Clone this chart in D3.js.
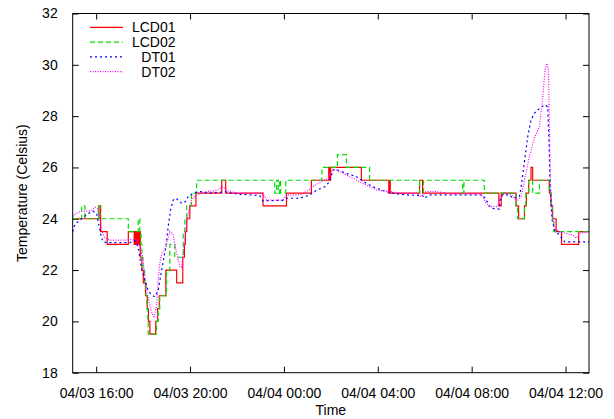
<!DOCTYPE html>
<html>
<head>
<meta charset="utf-8">
<script src="https://cdn.jsdelivr.net/npm/d3@7"></script>
<style>
    body { margin: 0; background: #fff; }
    text { font-family: "Liberation Sans", Arial, sans-serif; font-size: 14px; fill: #000; }
</style>
</head>
<body>
<div class="chart"></div>
<script>
// hours after 04/03 15:00, temperature
const lcd01 = [[0,24],[1.12,24.5],[1.19,23.5],[1.47,23],[2.37,23.5],[2.62,23],[2.66,23.5],[2.71,23],[2.75,23.5],[2.80,23],[2.83,23.5],
    [2.88,22.5],[2.95,22],[3.01,21.5],[3.10,21],[3.18,20.5],[3.23,20],[3.29,19.5],[3.54,20],[3.62,20.5],[3.69,21],[3.97,22],
    [4.43,21.5],[4.69,22.5],[4.76,23],[4.80,23.5],[4.86,24],[4.99,24.5],[5.25,25],[6.35,25.5],[6.52,25],[8.11,24.5],[9.11,25],
    [10.17,25.5],[10.91,26],[10.95,25.5],[10.99,26],[12.30,25.5],[13.47,25],[13.50,25.5],[13.53,25],[14.78,25.5],[14.91,25],
    [18.16,24.5],[18.26,25],[18.89,24.5],[19.00,24],[19.25,24.5],[19.33,25],[19.43,25.5],[19.53,26],[19.60,25.5],[20.31,25],
    [20.38,24.5],[20.45,24],[20.60,23.5],[20.83,23],[21.56,23.5],[22,23.5]];

const lcd02 = [[0,24],[0.38,24.5],[0.52,24],[1.09,24.5],[1.16,24],[2.37,23.5],[2.79,24],[2.86,23.5],[2.91,23],[2.95,22.5],
    [2.99,22],[3.06,21.5],[3.12,21],[3.16,20.5],[3.20,20],[3.22,19.5],[3.57,20],[3.64,20.5],[3.71,21],[4.00,22],[4.14,23],
    [4.35,22.5],[4.71,23.5],[4.78,24],[4.86,24.5],[5.06,25],[5.28,25.5],[8.61,25],[8.69,25.5],[8.76,25],[8.82,25.5],[8.86,25],
    [9.08,25.5],[10.62,26],[11.28,26.5],[11.66,26],[12.65,25.5],[14.78,25],[14.95,25.5],[16.62,25],[16.67,25.5],[17.54,25],
    [18.89,24.5],[18.96,24],[19.25,24.5],[19.31,25],[19.43,25.5],[19.60,25],[19.89,25.5],[20.31,25],[20.38,24.5],[20.44,24],
    [20.50,23.5],[22,23.5]];

const dt01 = [[0,23.5],[0.10,23.8],[0.38,24.0],[0.65,24.2],[0.86,24.3],[1.02,24.2],[1.13,23.7],[1.23,23.25],[1.30,23.1],
    [1.45,23.07],[2.44,23.07],[2.65,23.15],[2.79,22.9],[2.86,22.5],[2.94,22.0],[3.08,21.6],[3.22,21.2],[3.36,21.03],[3.50,20.96],
    [3.64,21.2],[3.79,22.0],[3.89,22.5],[3.97,22.9],[4.07,23.7],[4.17,24.34],[4.28,24.73],[4.40,24.8],[4.49,24.73],[4.64,24.6],
    [4.78,24.65],[4.92,24.86],[5.13,25.0],[5.42,25.06],[5.85,25.0],[6.49,25.05],[7.12,24.95],[7.55,24.93],[7.97,24.9],[8.10,24.7],
    [8.95,24.72],[9.11,24.8],[9.67,24.8],[10.10,24.93],[10.38,25.1],[10.74,25.25],[10.95,25.45],[11.09,25.9],[11.20,25.93],
    [11.66,25.77],[12.09,25.64],[12.51,25.38],[12.94,25.19],[13.36,25.06],[13.79,24.97],[14.21,24.93],[14.92,24.9],[14.99,24.8],
    [15.20,24.93],[17.47,24.93],[17.62,24.73],[17.76,24.5],[17.89,24.4],[18.18,24.38],[18.21,24.73],[18.32,24.93],[18.61,24.93],
    [18.75,24.8],[19.03,24.85],[19.10,25.19],[19.24,26.16],[19.39,27.2],[19.53,27.85],[19.67,28.11],[19.89,28.3],[20.10,28.44],
    [20.24,28.37],[20.31,26.55],[20.35,25.0],[20.43,23.95],[20.53,23.56],[20.74,23.37],[20.96,23.1],[22,23.1]];

const dt02 = [[0,24.1],[0.14,24.2],[0.38,24.3],[0.65,24.3],[0.86,24.35],[0.95,24.45],[1.09,24.4],[1.23,23.56],[1.37,23.25],
    [1.59,23.17],[2.30,23.17],[2.37,23.2],[2.72,23.17],[2.86,22.9],[2.98,22.5],[3.08,21.74],[3.17,21.1],[3.29,20.64],[3.40,20.25],
    [3.47,20.18],[3.57,20.57],[3.64,21.6],[3.71,22.26],[3.79,22.65],[3.93,22.78],[4.14,23.5],[4.28,23.37],[4.43,22.65],[4.57,22.13],
    [4.64,22.1],[4.74,22.9],[4.82,23.56],[4.92,24.2],[5.06,24.73],[5.28,24.93],[5.70,25.06],[6.13,25.1],[6.41,25.25],[6.55,25.1],
    [6.98,25.0],[7.83,25.0],[8.10,25.0],[8.26,24.73],[8.96,24.73],[9.11,24.93],[9.67,24.93],[9.96,25.06],[10.24,25.25],[10.60,25.45],
    [10.88,25.58],[11.02,25.84],[11.16,25.93],[11.38,25.84],[11.80,25.64],[12.37,25.38],[12.94,25.12],[13.50,25.06],[13.93,25.0],
    [14.64,25.0],[14.85,24.86],[15.06,25.06],[15.49,25.06],[16.06,24.97],[17.33,24.97],[17.47,24.86],[17.62,24.6],[17.76,24.47],
    [18.10,24.47],[18.21,24.8],[18.40,25.0],[18.68,24.95],[18.83,24.8],[18.97,24.73],[19.11,24.86],[19.25,25.51],[19.46,26.42],
    [19.67,27.14],[19.89,27.59],[20.03,28.76],[20.13,29.8],[20.20,30.06],[20.27,29.8],[20.31,27.85],[20.35,25.51],[20.43,24.21],
    [20.53,23.63],[20.74,23.5],[21.02,23.43],[21.31,23.37],[21.45,23.24],[21.60,23.43],[21.96,23.5]];

const seriesNames = ["LCD01", "LCD02", "DT01", "DT02"];
const yTicks = [18, 20, 22, 24, 26, 28, 30, 32];
const xTickHours = [1, 5, 9, 13, 17, 21];

const start = new Date(2000, 3, 3, 15, 0);
const toDate = h => new Date(+start + h * 36e5);

let W = 614, H = 419,
    padL = 72.7, padR = 589, padT = 13.5, padB = 372.7;

const x = d3.scaleTime().domain([toDate(0), toDate(22)]).range([padL, padR]);
const y = d3.scaleLinear().domain([18, 32]).range([padB, padT]);

const svg = d3.select(".chart").append("svg").attr("width", W).attr("height", H);

// inward ticks on all four sides, like gnuplot mirror tics
const fmt = d3.timeFormat("%m/%d %H:%M");
const xTicks = xTickHours.map(toDate);

svg.append("g").attr("transform", `translate(0,${padB})`)
    .call(d3.axisBottom(x).tickValues(xTicks).tickFormat(fmt).tickSizeInner(-6).tickSizeOuter(0).tickPadding(15))
    .call(g => g.select(".domain").remove())
    .call(g => g.selectAll("text").attr("font-size", 14).attr("font-family", "Liberation Sans, Arial, sans-serif"));
svg.append("g").attr("transform", `translate(0,${padT})`)
    .call(d3.axisTop(x).tickValues(xTicks).tickFormat("").tickSizeInner(-6).tickSizeOuter(0))
    .call(g => g.select(".domain").remove());
svg.append("g").attr("transform", `translate(${padL},0)`)
    .call(d3.axisLeft(y).tickValues(yTicks).tickSizeInner(-6).tickSizeOuter(0).tickPadding(15))
    .call(g => g.select(".domain").remove())
    .call(g => g.selectAll("text").attr("font-size", 14).attr("font-family", "Liberation Sans, Arial, sans-serif"));
svg.append("g").attr("transform", `translate(${padR},0)`)
    .call(d3.axisRight(y).tickValues(yTicks).tickFormat("").tickSizeInner(-6).tickSizeOuter(0))
    .call(g => g.select(".domain").remove());

svg.selectAll(".tick line").attr("stroke", "#000");

const step = d3.line().x(d => x(toDate(d[0]))).y(d => y(d[1])).curve(d3.curveStepAfter);
const plain = d3.line().x(d => x(toDate(d[0]))).y(d => y(d[1]));

const styles = [
    {data: lcd01, line: step, color: "#ff0000", dash: null},
    {data: lcd02, line: step, color: "#00e000", dash: "5,3"},
    {data: dt01, line: plain, color: "#0000ff", dash: "2,3"},
    {data: dt02, line: plain, color: "#ff00ff", dash: "1,1.5"}
];

const plot = svg.append("g");
styles.forEach(s => {
    plot.append("path")
        .attr("d", s.line(s.data))
        .attr("fill", "none")
        .attr("stroke", s.color)
        .attr("stroke-width", 1.2)
        .attr("stroke-dasharray", s.dash);
});

// frame
svg.append("rect")
    .attr("x", padL).attr("y", padT)
    .attr("width", padR - padL).attr("height", padB - padT)
    .attr("fill", "none").attr("stroke", "#000").attr("stroke-width", 1);

// legend
const legend = svg.append("g");
seriesNames.forEach((name, i) => {
    let ly = 27.3 + i * 14.8;
    legend.append("line")
        .attr("x1", 90).attr("x2", 123).attr("y1", ly).attr("y2", ly)
        .attr("stroke", styles[i].color).attr("stroke-width", 1.2)
        .attr("stroke-dasharray", styles[i].dash);
    legend.append("text")
        .attr("x", 175.5).attr("y", ly + 5)
        .attr("text-anchor", "end")
        .text(name);
});

svg.append("text")
    .attr("x", (padL + padR) / 2).attr("y", 415)
    .attr("text-anchor", "middle")
    .text("Time");

svg.append("text")
    .attr("transform", `translate(26.5,${(padT + padB) / 2}) rotate(-90)`)
    .attr("text-anchor", "middle")
    .text("Temperature (Celsius)");
</script>
</body>
</html>
